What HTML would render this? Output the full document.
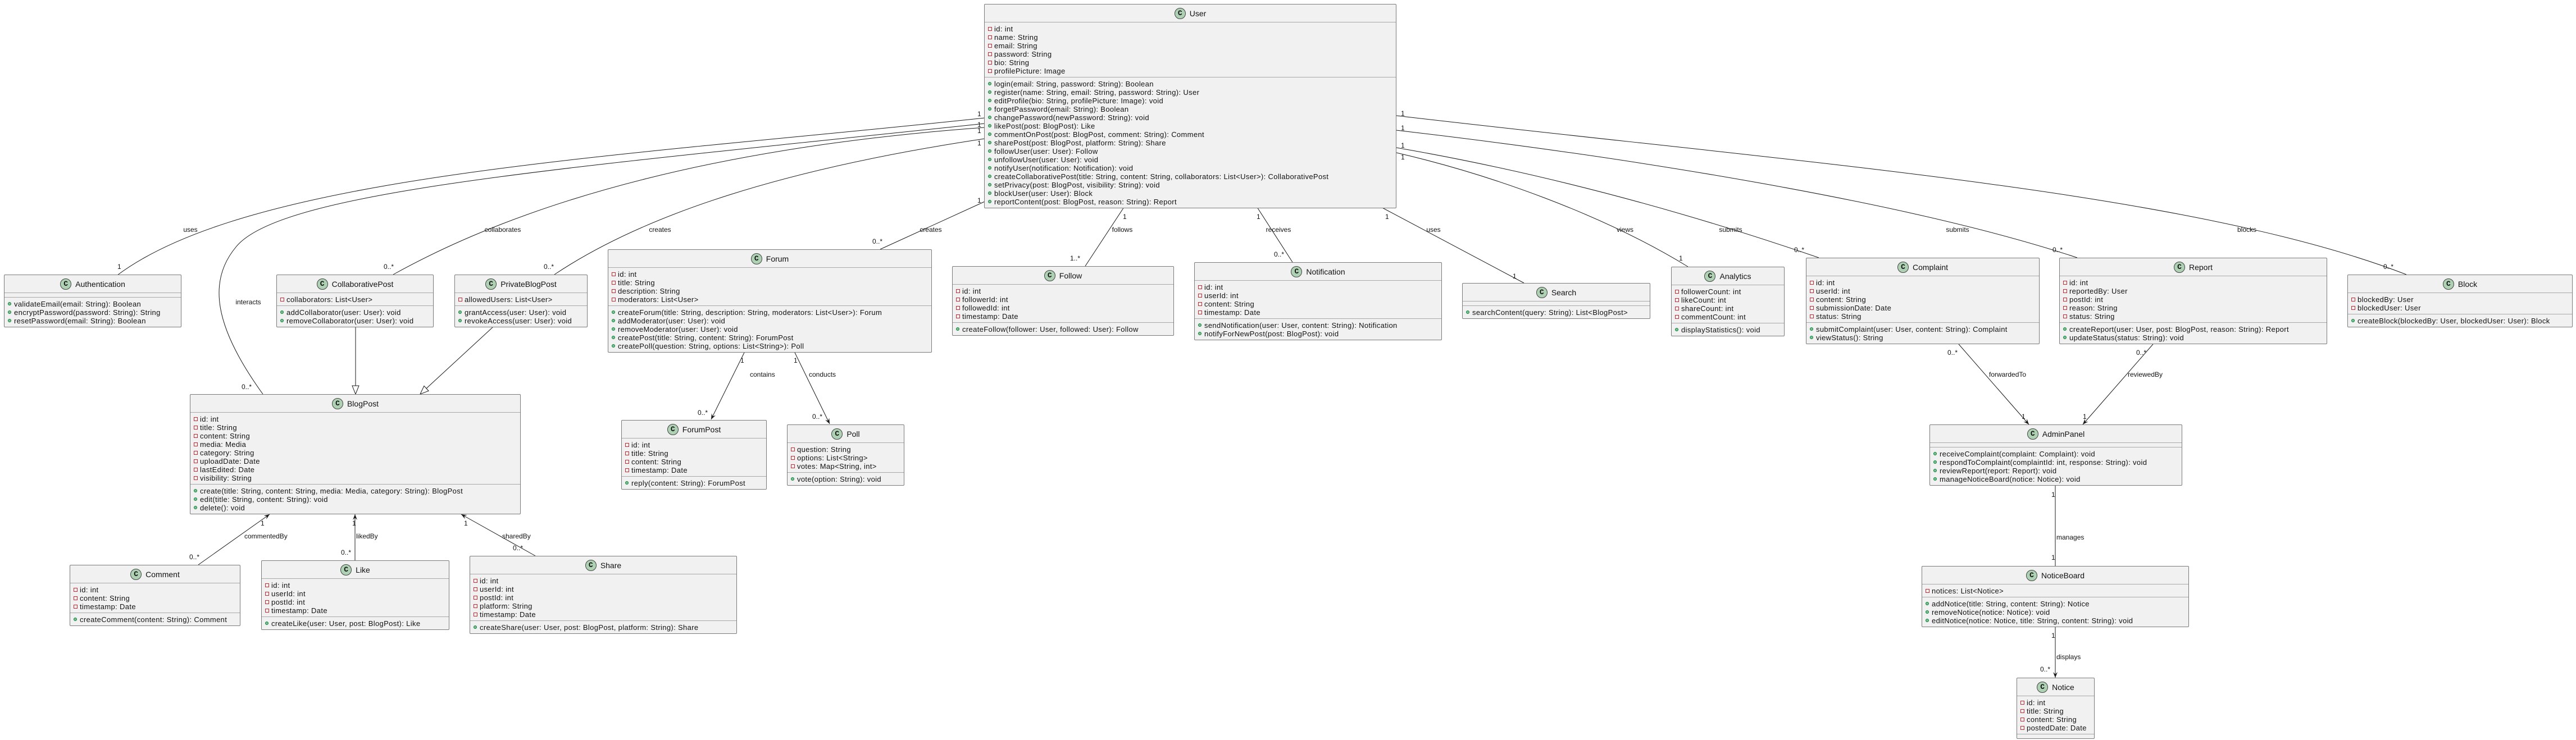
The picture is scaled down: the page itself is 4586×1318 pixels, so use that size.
<!DOCTYPE html>
<html><head><meta charset="utf-8"><style>
body{margin:0;width:4586px;height:1318px;background:#fff;position:relative;overflow:hidden;font-family:"Liberation Sans",sans-serif}
svg{position:absolute;left:0;top:0}
.b{position:absolute;background:#f1f1f1;border:1px solid #7a7a7a;box-sizing:border-box;font:13px "Liberation Sans",sans-serif;letter-spacing:.35px;color:#111;border-radius:2px;z-index:2}
.h{height:31px;border-bottom:1px solid #a8a8a8;display:flex;align-items:center;justify-content:center;font-size:14px;letter-spacing:0}
.c{width:20px;height:20px;border-radius:50%;background:#add1b2;border:1px solid #444;font:bold 13px "Liberation Mono",monospace;display:inline-flex;align-items:center;justify-content:center;margin-right:7px;box-sizing:border-box}
.s{padding:4px 0 3px;border-bottom:1px solid #a8a8a8}
.s:last-child{border-bottom:none}
.r{height:15px;line-height:15px;padding-left:17px;position:relative;white-space:nowrap}
.p::before{content:"";position:absolute;left:6px;top:4px;width:5px;height:5px;border:1px solid #c82930}
.m::before{content:"";position:absolute;left:6px;top:4px;width:6px;height:6px;border-radius:50%;background:#84be84;border:1px solid #038048;box-sizing:border-box}
</style></head><body>
<svg width="4586" height="1318" xmlns="http://www.w3.org/2000/svg">
<defs>
<marker id="a" markerUnits="userSpaceOnUse" markerWidth="12" markerHeight="10" refX="10" refY="4" orient="auto"><path d="M0,0 L10,4 L0,8 L4,4 Z" fill="#181818"/></marker>
<marker id="t" markerUnits="userSpaceOnUse" markerWidth="18" markerHeight="16" refX="16" refY="7" orient="auto"><path d="M1,1 L16,7 L1,13 Z" fill="#fff" stroke="#181818"/></marker>
</defs>
<g fill="none" stroke="#181818" stroke-width="1">
<path d="M1753,210 C1100,280 450,310 209,490"/>
<path d="M1753,220 C1000,300 500,340 420,440 C370,500 380,580 468,702"/>
<path d="M1753,227 C1300,260 950,350 700,489"/>
<path d="M1753,247 C1400,300 1150,380 987,489"/>
<path d="M1753,359 L1567,444"/>
<path d="M2001,369 L1932,474"/>
<path d="M2238,369 L2301,467"/>
<path d="M2459,369 L2713,504"/>
<path d="M2486,272 C2650,310 2850,380 3005,475"/>
<path d="M2486,263 C2700,300 2950,360 3238,459"/>
<path d="M2486,232 C2900,280 3400,360 3698,459"/>
<path d="M2486,206 C3200,290 3900,340 4284,489"/>
<path d="M633,583 L633,702" marker-end="url(#t)"/>
<path d="M877,583 L748,702" marker-end="url(#t)"/>
<path d="M1325,628 L1266,747" marker-end="url(#a)"/>
<path d="M1415,628 L1477,755" marker-end="url(#a)"/>
<path d="M353,1006 L480,916" marker-end="url(#a)"/>
<path d="M632,998 L632,916" marker-end="url(#a)"/>
<path d="M953,990 L821,916" marker-end="url(#a)"/>
<path d="M3487,613 L3612,756" marker-end="url(#a)"/>
<path d="M3833,613 L3708,756" marker-end="url(#a)"/>
<path d="M3659,865 L3659,1008"/>
<path d="M3659,1116 L3659,1207" marker-end="url(#a)"/>
</g>
<g font-family="Liberation Sans, sans-serif" font-size="12" fill="#111">
<text x="339" y="413" text-anchor="middle">uses</text>
<text x="442" y="542" text-anchor="middle">interacts</text>
<text x="895" y="413" text-anchor="middle">collaborates</text>
<text x="1175" y="413" text-anchor="middle">creates</text>
<text x="1657" y="413" text-anchor="middle">creates</text>
<text x="1998" y="413" text-anchor="middle">follows</text>
<text x="2276" y="413" text-anchor="middle">receives</text>
<text x="2552" y="413" text-anchor="middle">uses</text>
<text x="2893" y="413" text-anchor="middle">views</text>
<text x="3081" y="413" text-anchor="middle">submits</text>
<text x="3485" y="413" text-anchor="middle">submits</text>
<text x="4000" y="413" text-anchor="middle">blocks</text>
<text x="1740" y="207">1</text><text x="1740" y="226">1</text><text x="1740" y="237">1</text><text x="1740" y="259">1</text><text x="1740" y="361">1</text>
<text x="2494" y="206">1</text><text x="2494" y="232">1</text><text x="2494" y="263">1</text><text x="2494" y="284">1</text>
<text x="209" y="479">1</text>
<text x="430" y="693">0..*</text>
<text x="683" y="479">0..*</text>
<text x="968" y="479">0..*</text>
<text x="1553" y="434">0..*</text>
<text x="1999" y="390">1</text><text x="1905" y="464">1..*</text>
<text x="2237" y="390">1</text><text x="2268" y="457">0..*</text>
<text x="2466" y="390">1</text><text x="2693" y="496">1</text>
<text x="2989" y="464">1</text>
<text x="3194" y="449">0..*</text>
<text x="3654" y="449">0..*</text>
<text x="4243" y="479">0..*</text>
<text x="1318" y="646">1</text><text x="1335" y="671">contains</text><text x="1242" y="739">0..*</text>
<text x="1413" y="646">1</text><text x="1440" y="671">conducts</text><text x="1446" y="746">0..*</text>
<text x="464" y="936">1</text><text x="435" y="959">commentedBy</text><text x="337" y="996">0..*</text>
<text x="627" y="936">1</text><text x="634" y="959">likedBy</text><text x="607" y="988">0..*</text>
<text x="826" y="936">1</text><text x="894" y="959">sharedBy</text><text x="913" y="980">0..*</text>
<text x="3467" y="632">0..*</text><text x="3541" y="671">forwardedTo</text><text x="3599" y="746">1</text>
<text x="3803" y="632">0..*</text><text x="3788" y="671">reviewedBy</text><text x="3708" y="746">1</text>
<text x="3652" y="885">1</text><text x="3661" y="961">manages</text><text x="3652" y="997">1</text>
<text x="3652" y="1136">1</text><text x="3661" y="1174">displays</text><text x="3632" y="1196">0..*</text>
</g>
</svg>

<div class="b" style="left:1752px;top:7px;width:734px"><div class="h"><span class="c">C</span>User</div>
<div class="s"><div class="r p">id: int</div><div class="r p">name: String</div><div class="r p">email: String</div><div class="r p">password: String</div><div class="r p">bio: String</div><div class="r p">profilePicture: Image</div></div>
<div class="s"><div class="r m">login(email: String, password: String): Boolean</div><div class="r m">register(name: String, email: String, password: String): User</div><div class="r m">editProfile(bio: String, profilePicture: Image): void</div><div class="r m">forgetPassword(email: String): Boolean</div><div class="r m">changePassword(newPassword: String): void</div><div class="r m">likePost(post: BlogPost): Like</div><div class="r m">commentOnPost(post: BlogPost, comment: String): Comment</div><div class="r m">sharePost(post: BlogPost, platform: String): Share</div><div class="r m">followUser(user: User): Follow</div><div class="r m">unfollowUser(user: User): void</div><div class="r m">notifyUser(notification: Notification): void</div><div class="r m">createCollaborativePost(title: String, content: String, collaborators: List&lt;User&gt;): CollaborativePost</div><div class="r m">setPrivacy(post: BlogPost, visibility: String): void</div><div class="r m">blockUser(user: User): Block</div><div class="r m">reportContent(post: BlogPost, reason: String): Report</div></div></div>

<div class="b" style="left:7px;top:489px;width:316px"><div class="h"><span class="c">C</span>Authentication</div><div class="s"></div>
<div class="s"><div class="r m">validateEmail(email: String): Boolean</div><div class="r m">encryptPassword(password: String): String</div><div class="r m">resetPassword(email: String): Boolean</div></div></div>

<div class="b" style="left:492px;top:489px;width:280px"><div class="h"><span class="c">C</span>CollaborativePost</div>
<div class="s"><div class="r p">collaborators: List&lt;User&gt;</div></div>
<div class="s"><div class="r m">addCollaborator(user: User): void</div><div class="r m">removeCollaborator(user: User): void</div></div></div>

<div class="b" style="left:809px;top:489px;width:237px"><div class="h"><span class="c">C</span>PrivateBlogPost</div>
<div class="s"><div class="r p">allowedUsers: List&lt;User&gt;</div></div>
<div class="s"><div class="r m">grantAccess(user: User): void</div><div class="r m">revokeAccess(user: User): void</div></div></div>

<div class="b" style="left:338px;top:702px;width:589px"><div class="h"><span class="c">C</span>BlogPost</div>
<div class="s"><div class="r p">id: int</div><div class="r p">title: String</div><div class="r p">content: String</div><div class="r p">media: Media</div><div class="r p">category: String</div><div class="r p">uploadDate: Date</div><div class="r p">lastEdited: Date</div><div class="r p">visibility: String</div></div>
<div class="s"><div class="r m">create(title: String, content: String, media: Media, category: String): BlogPost</div><div class="r m">edit(title: String, content: String): void</div><div class="r m">delete(): void</div></div></div>

<div class="b" style="left:1082px;top:444px;width:577px"><div class="h"><span class="c">C</span>Forum</div>
<div class="s"><div class="r p">id: int</div><div class="r p">title: String</div><div class="r p">description: String</div><div class="r p">moderators: List&lt;User&gt;</div></div>
<div class="s"><div class="r m">createForum(title: String, description: String, moderators: List&lt;User&gt;): Forum</div><div class="r m">addModerator(user: User): void</div><div class="r m">removeModerator(user: User): void</div><div class="r m">createPost(title: String, content: String): ForumPost</div><div class="r m">createPoll(question: String, options: List&lt;String&gt;): Poll</div></div></div>

<div class="b" style="left:1695px;top:474px;width:395px"><div class="h"><span class="c">C</span>Follow</div>
<div class="s"><div class="r p">id: int</div><div class="r p">followerId: int</div><div class="r p">followedId: int</div><div class="r p">timestamp: Date</div></div>
<div class="s"><div class="r m">createFollow(follower: User, followed: User): Follow</div></div></div>

<div class="b" style="left:2126px;top:467px;width:441px"><div class="h"><span class="c">C</span>Notification</div>
<div class="s"><div class="r p">id: int</div><div class="r p">userId: int</div><div class="r p">content: String</div><div class="r p">timestamp: Date</div></div>
<div class="s"><div class="r m">sendNotification(user: User, content: String): Notification</div><div class="r m">notifyForNewPost(post: BlogPost): void</div></div></div>

<div class="b" style="left:2603px;top:504px;width:335px"><div class="h"><span class="c">C</span>Search</div><div class="s"></div>
<div class="s"><div class="r m">searchContent(query: String): List&lt;BlogPost&gt;</div></div></div>

<div class="b" style="left:2975px;top:475px;width:202px"><div class="h"><span class="c">C</span>Analytics</div>
<div class="s"><div class="r p">followerCount: int</div><div class="r p">likeCount: int</div><div class="r p">shareCount: int</div><div class="r p">commentCount: int</div></div>
<div class="s"><div class="r m">displayStatistics(): void</div></div></div>

<div class="b" style="left:3215px;top:459px;width:416px"><div class="h"><span class="c">C</span>Complaint</div>
<div class="s"><div class="r p">id: int</div><div class="r p">userId: int</div><div class="r p">content: String</div><div class="r p">submissionDate: Date</div><div class="r p">status: String</div></div>
<div class="s"><div class="r m">submitComplaint(user: User, content: String): Complaint</div><div class="r m">viewStatus(): String</div></div></div>

<div class="b" style="left:3666px;top:459px;width:477px"><div class="h"><span class="c">C</span>Report</div>
<div class="s"><div class="r p">id: int</div><div class="r p">reportedBy: User</div><div class="r p">postId: int</div><div class="r p">reason: String</div><div class="r p">status: String</div></div>
<div class="s"><div class="r m">createReport(user: User, post: BlogPost, reason: String): Report</div><div class="r m">updateStatus(status: String): void</div></div></div>

<div class="b" style="left:4179px;top:489px;width:401px"><div class="h"><span class="c">C</span>Block</div>
<div class="s"><div class="r p">blockedBy: User</div><div class="r p">blockedUser: User</div></div>
<div class="s"><div class="r m">createBlock(blockedBy: User, blockedUser: User): Block</div></div></div>

<div class="b" style="left:1106px;top:748px;width:259px"><div class="h"><span class="c">C</span>ForumPost</div>
<div class="s"><div class="r p">id: int</div><div class="r p">title: String</div><div class="r p">content: String</div><div class="r p">timestamp: Date</div></div>
<div class="s"><div class="r m">reply(content: String): ForumPost</div></div></div>

<div class="b" style="left:1401px;top:756px;width:209px"><div class="h"><span class="c">C</span>Poll</div>
<div class="s"><div class="r p">question: String</div><div class="r p">options: List&lt;String&gt;</div><div class="r p">votes: Map&lt;String, int&gt;</div></div>
<div class="s"><div class="r m">vote(option: String): void</div></div></div>

<div class="b" style="left:124px;top:1006px;width:304px"><div class="h"><span class="c">C</span>Comment</div>
<div class="s"><div class="r p">id: int</div><div class="r p">content: String</div><div class="r p">timestamp: Date</div></div>
<div class="s"><div class="r m">createComment(content: String): Comment</div></div></div>

<div class="b" style="left:465px;top:998px;width:335px"><div class="h"><span class="c">C</span>Like</div>
<div class="s"><div class="r p">id: int</div><div class="r p">userId: int</div><div class="r p">postId: int</div><div class="r p">timestamp: Date</div></div>
<div class="s"><div class="r m">createLike(user: User, post: BlogPost): Like</div></div></div>

<div class="b" style="left:836px;top:990px;width:476px"><div class="h"><span class="c">C</span>Share</div>
<div class="s"><div class="r p">id: int</div><div class="r p">userId: int</div><div class="r p">postId: int</div><div class="r p">platform: String</div><div class="r p">timestamp: Date</div></div>
<div class="s"><div class="r m">createShare(user: User, post: BlogPost, platform: String): Share</div></div></div>

<div class="b" style="left:3435px;top:756px;width:450px"><div class="h"><span class="c">C</span>AdminPanel</div><div class="s"></div>
<div class="s"><div class="r m">receiveComplaint(complaint: Complaint): void</div><div class="r m">respondToComplaint(complaintId: int, response: String): void</div><div class="r m">reviewReport(report: Report): void</div><div class="r m">manageNoticeBoard(notice: Notice): void</div></div></div>

<div class="b" style="left:3421px;top:1008px;width:476px"><div class="h"><span class="c">C</span>NoticeBoard</div>
<div class="s"><div class="r p">notices: List&lt;Notice&gt;</div></div>
<div class="s"><div class="r m">addNotice(title: String, content: String): Notice</div><div class="r m">removeNotice(notice: Notice): void</div><div class="r m">editNotice(notice: Notice, title: String, content: String): void</div></div></div>

<div class="b" style="left:3590px;top:1207px;width:139px"><div class="h"><span class="c">C</span>Notice</div>
<div class="s"><div class="r p">id: int</div><div class="r p">title: String</div><div class="r p">content: String</div><div class="r p">postedDate: Date</div></div><div class="s"></div></div>
</body></html>
